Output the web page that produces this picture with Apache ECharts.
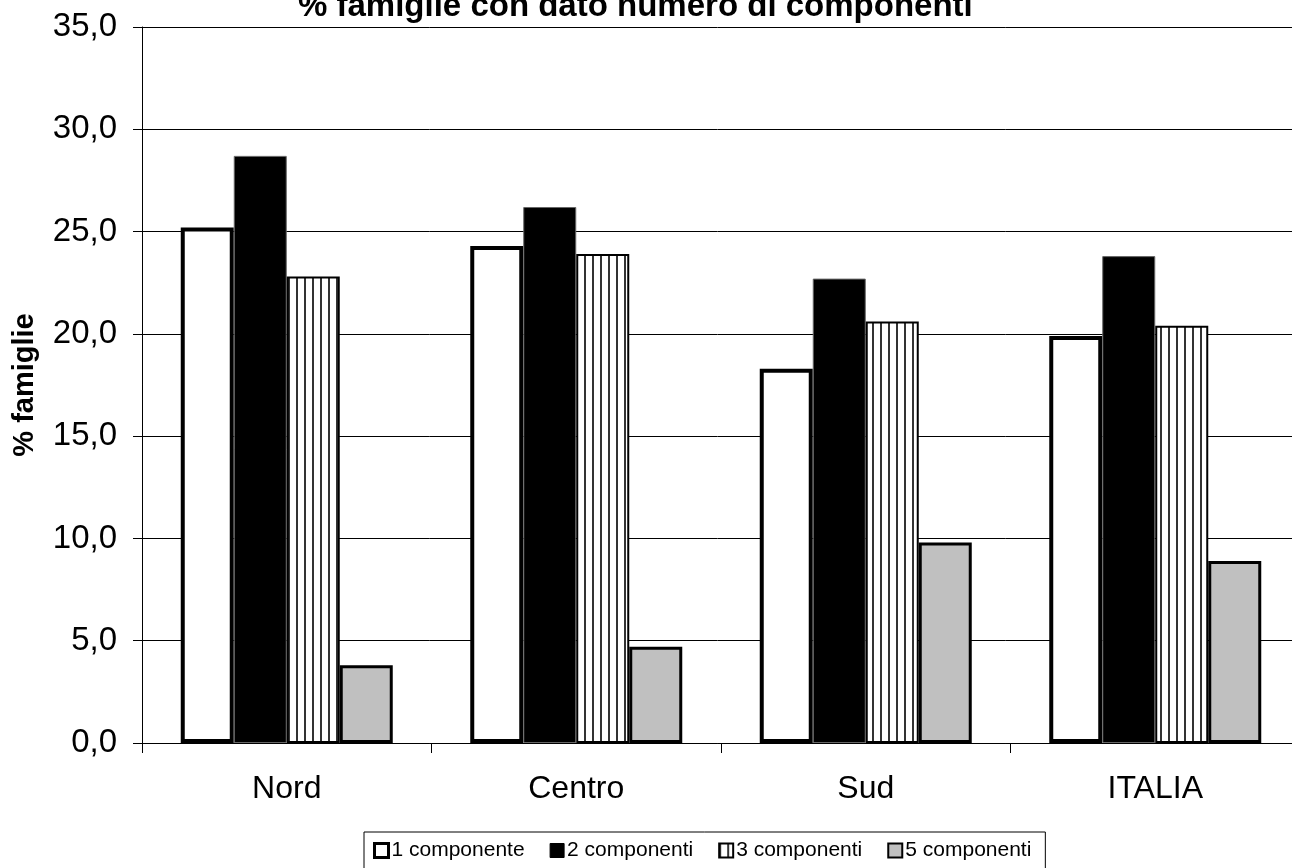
<!DOCTYPE html>
<html>
<head>
<meta charset="utf-8">
<script src="https://cdn.jsdelivr.net/npm/echarts@6/dist/echarts.min.js"></script>
<style>
html,body{margin:0;padding:0;background:#fff;}
#chart{width:1292px;height:868px;}
</style>
</head>
<body>
<div id="chart"></div>
<script>
const categories = ['Nord', 'Centro', 'Sud', 'ITALIA'];
const seriesNames = ['1 componente', '2 componenti', '3 componenti', '5 componenti'];
const comp1 = [25.2, 24.3, 18.3, 19.9];
const comp2 = [28.7, 26.2, 22.7, 23.8];
const comp3 = [22.8, 23.9, 20.6, 20.4];
const comp5 = [3.8, 4.7, 9.8, 8.9];
const yTicks = { min: 0, max: 35, interval: 5 };
const titleText = '% famiglie con dato numero di componenti';
const yName = '% famiglie';

const FONT = '"Liberation Sans", Arial, sans-serif';

function stripePattern() {
  const c = document.createElement('canvas');
  c.width = 8; c.height = 8;
  const ctx = c.getContext('2d');
  ctx.fillStyle = '#ffffff';
  ctx.fillRect(0, 0, 8, 8);
  ctx.fillStyle = '#333333';
  ctx.fillRect(0, 0, 2, 8);
  return { image: c, repeat: 'repeat' };
}

const chart = echarts.init(document.getElementById('chart'), null, { renderer: 'canvas' });
const fmt = v => v.toFixed(1).replace('.', ',');
const legendBorders = [3, 1, 2, 2];

const option = {
  backgroundColor: '#ffffff',
  animation: false,
  title: {
    text: titleText,
    left: 293,
    top: -15,
    textStyle: { fontFamily: FONT, fontSize: 33, fontWeight: 'bold', color: '#000' }
  },
  legend: {
    left: 364,
    top: 832,
    icon: 'rect',
    itemWidth: 14,
    itemHeight: 14,
    itemGap: 25,
    padding: [8, 14, 8, 9],
    borderColor: '#000',
    borderWidth: 1,
    borderRadius: 0,
    textStyle: { fontFamily: FONT, fontSize: 21, color: '#000', padding: [0, 0, 0, -2] },
    data: seriesNames.map((n, i) => ({ name: n, itemStyle: { borderWidth: legendBorders[i], borderColor: '#000' } }))
  },
  grid: { left: 142, right: -8, top: 27, bottom: 125, containLabel: false, outerBoundsMode: 'none' },
  xAxis: {
    type: 'category',
    data: categories,
    axisLine: { lineStyle: { color: '#000', width: 1 } },
    axisTick: { show: true, length: 10, lineStyle: { color: '#000' } },
    axisLabel: { fontFamily: FONT, fontSize: 32, color: '#000', margin: 30 }
  },
  yAxis: {
    type: 'value',
    min: yTicks.min,
    max: yTicks.max,
    interval: yTicks.interval,
    name: yName,
    nameLocation: 'middle',
    nameGap: 103,
    nameTextStyle: { fontFamily: FONT, fontSize: 29, fontWeight: 'bold', color: '#000' },
    axisLine: { show: true, lineStyle: { color: '#000', width: 1 } },
    axisTick: { show: true, length: 9, lineStyle: { color: '#000' } },
    axisLabel: { fontFamily: FONT, fontSize: 33, color: '#000', margin: 25, formatter: fmt },
    splitLine: { show: true, lineStyle: { color: '#000', width: 1 } }
  },
  series: [
    {
      name: seriesNames[0], type: 'bar', data: comp1, barWidth: 53, barGap: '0%',
      itemStyle: { color: '#ffffff', borderColor: '#000', borderWidth: 4 }
    },
    {
      name: seriesNames[1], type: 'bar', data: comp2, barWidth: 53, barGap: '0%',
      itemStyle: { color: '#000000', borderColor: '#666', borderWidth: 1 }
    },
    {
      name: seriesNames[2], type: 'bar', data: comp3, barWidth: 53, barGap: '0%',
      itemStyle: { color: stripePattern(), borderColor: '#000', borderWidth: 2 }
    },
    {
      name: seriesNames[3], type: 'bar', data: comp5, barWidth: 53, barGap: '0%',
      itemStyle: { color: '#c0c0c0', borderColor: '#000', borderWidth: 3 }
    }
  ]
};
chart.setOption(option);
</script>
</body>
</html>
